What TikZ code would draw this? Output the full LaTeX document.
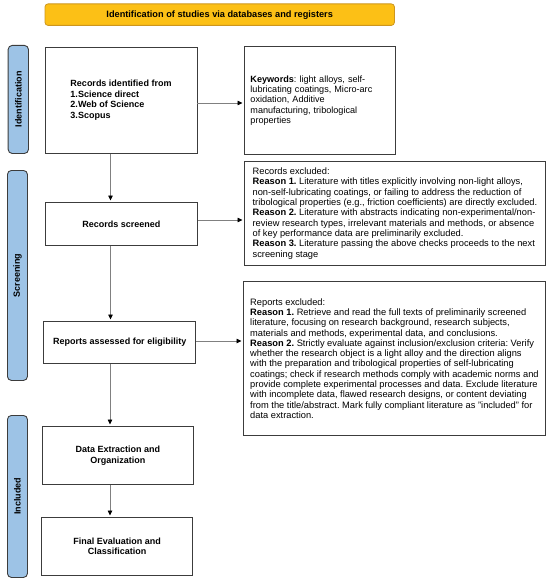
\documentclass[tikz,border=0pt]{standalone}
\usepackage{fontspec}
\setmainfont{Liberation Sans}
\usetikzlibrary{arrows.meta}
\definecolor{gold}{RGB}{252,192,22}
\definecolor{goldline}{RGB}{205,150,30}
\definecolor{sideblue}{RGB}{157,195,230}
\definecolor{edge}{RGB}{60,60,60}
\definecolor{arrline}{RGB}{128,128,128}
\tikzset{
  box/.style={draw=edge, line width=0.9pt, fill=white, anchor=north west, inner sep=0pt,
    font=\fontsize{9}{10.6}\selectfont\bfseries, align=center},
  notebox/.style={draw=edge, line width=0.9pt, fill=white, anchor=north west, inner sep=0pt,
    font=\fontsize{9.3}{10.3}\selectfont\frenchspacing, align=left},
  sidebar/.style={draw=edge, line width=0.9pt, fill=sideblue, rounded corners=4pt, anchor=north west,
    inner sep=0pt, font=\fontsize{9}{10.5}\selectfont\bfseries},
  sidelabel/.style={rotate=90, font=\fontsize{9}{10.5}\selectfont\bfseries},
  titlebar/.style={draw=goldline, line width=0.8pt, fill=gold, rounded corners=3pt, anchor=north west,
    inner sep=0pt, font=\fontsize{9.2}{10.5}\selectfont\bfseries},
  arr/.style={draw=arrline, line width=0.8pt, -{Triangle[length=5pt,width=4.5pt,color=black]}, shorten >=1.5pt},
}
\begin{document}
\begin{tikzpicture}[x=1pt,y=-1pt]
\useasboundingbox (0,0) rectangle (550,583);

% title bar
\node[titlebar, minimum width=349.4pt, minimum height=21.5pt] (title) at (44.6,3.5)
  {Identification of studies via databases and registers};

% side bars
\node[sidebar, minimum width=20.3pt, minimum height=108pt] (sid) at (7.7,45) {};
\node[sidelabel] (sidl) at (sid.center) {Identification};
\node[sidebar, minimum width=20pt, minimum height=210pt] (sscr) at (7,170) {};
\node[sidelabel] (sscrl) at (sscr.center) {Screening};
\node[sidebar, minimum width=20pt, minimum height=162pt] (sinc) at (7,415) {};
\node[sidelabel] (sincl) at (sinc.center) {Included};

% main boxes
\node[box, align=left, minimum width=151.9pt, minimum height=105.9pt] (rid) at (44.6,46.7)
  {Records identified from\\1.Science direct\\2.Web of Science\\3.Scopus};
\node[notebox, font=\fontsize{9.1}{10.3}\selectfont\frenchspacing, minimum width=151pt, minimum height=108pt, text width=139pt, inner xsep=6pt] (kw) at (244,46)
  {\textbf{Keywords}: light alloys, self-\\lubricating coatings, Micro-arc\\oxidation, Additive\\manufacturing, tribological\\properties};
\node[box, minimum width=151.7pt, minimum height=43pt] (rs) at (45,202) {Records screened};
\node[notebox, minimum width=301pt, minimum height=104pt] (rex) at (244,161)
  {Records excluded:\\
  \textbf{Reason 1.} Literature with titles explicitly involving non-light alloys,\\
  non-self-lubricating coatings, or failing to address the reduction of\\
  tribological properties (e.g., friction coefficients) are directly excluded.\\
  \textbf{Reason 2.} Literature with abstracts indicating non-experimental/non-\\
  review research types, irrelevant materials and methods, or absence\\
  of key performance data are preliminarily excluded.\\
  \textbf{Reason 3.} Literature passing the above checks proceeds to the next\\
  screening stage};
\node[box, minimum width=152pt, minimum height=42pt] (ra) at (43.3,321) {Reports assessed for eligibility};
\node[notebox, minimum width=302pt, minimum height=154pt] (rpx) at (243,281)
  {Reports excluded:\\
  \textbf{Reason 1.} Retrieve and read the full texts of preliminarily screened\\
  literature, focusing on research background, research subjects,\\
  materials and methods, experimental data, and conclusions.\\
  \textbf{Reason 2.} Strictly evaluate against inclusion/exclusion criteria: Verify\\
  whether the research object is a light alloy and the direction aligns\\
  with the preparation and tribological properties of self-lubricating\\
  coatings; check if research methods comply with academic norms and\\
  provide complete experimental processes and data. Exclude literature\\
  with incomplete data, flawed research designs, or content deviating\\
  from the title/abstract. Mark fully compliant literature as "included" for\\
  data extraction.};
\node[box, minimum width=151.6pt, minimum height=58pt] (de) at (41.7,426) {Data Extraction and\\Organization};
\node[box, minimum width=151.3pt, minimum height=58pt] (fe) at (41,517) {Final Evaluation and\\Classification};

% connectors
\draw[arr] (rid.east |- 0,103) -- (kw.west |- 0,103);
\draw[arr] (rid.south -| 110.5,0) -- (rs.north -| 110.5,0);
\draw[arr] (rs.east |- 0,220) -- (rex.west |- 0,220);
\draw[arr] (rs.south -| 110.5,0) -- (ra.north -| 110.5,0);
\draw[arr] (ra.east |- 0,341) -- (rpx.west |- 0,341);
\draw[arr] (ra.south -| 110,0) -- (de.north -| 110,0);
\draw[arr] (de.south -| 110,0) -- (fe.north -| 110,0);
\end{tikzpicture}
\end{document}
